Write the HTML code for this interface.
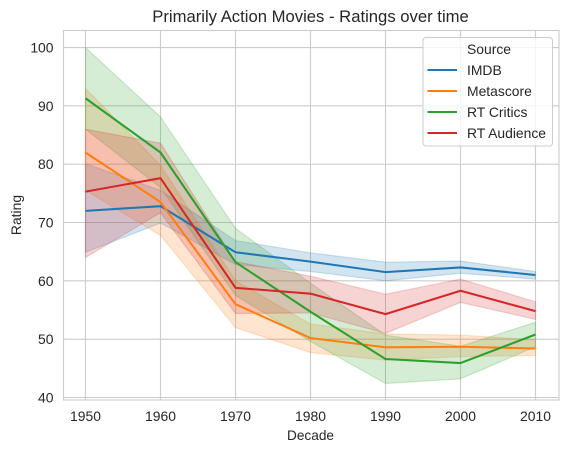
<!DOCTYPE html>
<html>
<head>
<meta charset="utf-8">
<title>Primarily Action Movies - Ratings over time</title>
<style>
html,body{margin:0;padding:0;background:#fff;width:568px;height:453px;overflow:hidden}
svg{display:block}
text{font-family:"Liberation Sans",Arial,sans-serif;fill:#262626}
</style>
</head>
<body>
<svg id="chart" width="568" height="453" viewBox="0 0 568 453" xmlns="http://www.w3.org/2000/svg">
<g id="grid"></g>
<g id="bands"></g>
<g id="lines"></g>
<rect x="63.5" y="30.5" width="495.5" height="369.5" fill="none" stroke="#cccccc" stroke-width="1.1"/>
<g id="ticks"></g>
<text x="310.5" y="22" text-anchor="middle" font-size="16.67">Primarily Action Movies - Ratings over time</text>
<text x="310.5" y="440" text-anchor="middle" font-size="13.9" textLength="47" lengthAdjust="spacingAndGlyphs">Decade</text>
<text x="21" y="215" text-anchor="middle" font-size="13.9" transform="rotate(-90 21 215)">Rating</text>
<g id="legend">
<rect x="423" y="37.5" width="129.5" height="108.5" rx="3" fill="#ffffff" fill-opacity="0.8" stroke="#cccccc" stroke-width="1"/>
<text x="467" y="54" font-size="13.9">Source</text>
</g>
</svg>
<script>
const decades = [1950, 1960, 1970, 1980, 1990, 2000, 2010];
const yTicks = [40, 50, 60, 70, 80, 90, 100];
const seriesNames = ["IMDB", "Metascore", "RT Critics", "RT Audience"];
const seriesColors = ["#1f77b4", "#ff7f0e", "#2ca02c", "#d62728"];
const imdbMean = [72.0, 72.8, 64.9, 63.3, 61.5, 62.3, 61.0];
const imdbLow = [64.9, 69.9, 62.8, 61.6, 60.0, 61.3, 60.3];
const imdbHigh = [80.1, 75.5, 66.9, 64.8, 63.2, 63.4, 61.6];
const metaMean = [82.0, 73.5, 56.0, 50.2, 48.6, 48.7, 48.4];
const metaLow = [75.5, 67.8, 52.0, 47.7, 46.4, 47.0, 47.2];
const metaHigh = [93.0, 79.8, 60.0, 52.6, 50.9, 50.7, 49.9];
const criticsMean = [91.3, 82.0, 63.2, 54.7, 46.6, 45.9, 50.8];
const criticsLow = [86.0, 76.0, 57.5, 49.6, 42.4, 43.2, 48.7];
const criticsHigh = [100.0, 88.1, 69.0, 59.6, 50.7, 48.8, 52.9];
const audienceMean = [75.3, 77.6, 58.8, 57.8, 54.3, 58.3, 54.8];
const audienceLow = [64.0, 71.7, 54.4, 54.5, 51.0, 56.3, 53.4];
const audienceHigh = [86.0, 83.6, 63.3, 60.8, 57.7, 60.3, 56.4];
const meanSeries = [imdbMean, metaMean, criticsMean, audienceMean];
const lowSeries = [imdbLow, metaLow, criticsLow, audienceLow];
const highSeries = [imdbHigh, metaHigh, criticsHigh, audienceHigh];

const NS = "http://www.w3.org/2000/svg";
function xScale(v) { return 85.5 + (v - 1950) * 7.5; }
function yScale(v) { return 397.5 - (v - 40) * 5.833; }
function make(tag, attrs, parent) {
  const el = document.createElementNS(NS, tag);
  for (const k in attrs) el.setAttribute(k, attrs[k]);
  parent.appendChild(el);
  return el;
}
function slug(s) { return s.toLowerCase().replace(/\s+/g, "-"); }

const gridG = document.getElementById("grid");
const bandsG = document.getElementById("bands");
const linesG = document.getElementById("lines");
const ticksG = document.getElementById("ticks");
const legendG = document.getElementById("legend");

decades.forEach(function (d) {
  const x = xScale(d);
  const g = make("line", { x1: x, x2: x, y1: 30.5, y2: 400, stroke: "#cccccc", "stroke-width": 1.1 }, gridG);
  
  
  const t = make("text", { x: x, y: 421, "text-anchor": "middle", "font-size": 13.9 }, ticksG);
  t.textContent = d;
  
  
});
yTicks.forEach(function (v) {
  const y = yScale(v);
  const g = make("line", { x1: 63.5, x2: 559, y1: y, y2: y, stroke: "#cccccc", "stroke-width": 1.1 }, gridG);
  
  
  const t = make("text", { x: 53.5, y: y + 5, "text-anchor": "end", "font-size": 13.9 }, ticksG);
  t.textContent = v;
  
  
});

seriesNames.forEach(function (name, i) {
  const color = seriesColors[i];
  const upper = decades.map(function (d, j) { return xScale(d) + "," + yScale(highSeries[i][j]); });
  const lower = decades.map(function (d, j) { return xScale(d) + "," + yScale(lowSeries[i][j]); }).reverse();
  const band = make("polygon", { points: upper.concat(lower).join(" "), fill: color, "fill-opacity": 0.2, stroke: color, "stroke-opacity": 0.2, "stroke-width": 1.2 }, bandsG);
  
  
  const pts = decades.map(function (d, j) { return xScale(d) + "," + yScale(meanSeries[i][j]); }).join(" ");
  const line = make("polyline", { points: pts, fill: "none", stroke: color, "stroke-width": 2.05, "stroke-linejoin": "round" }, linesG);
  
  

  const ly = 70 + i * 21;
  const swatch = make("line", { x1: 427.5, x2: 457, y1: ly, y2: ly, stroke: color, "stroke-width": 2.05 }, legendG);
  
  
  const label = make("text", { x: 467, y: ly + 5, "font-size": 13.9 }, legendG);
  label.textContent = name;
  
  
});
</script>
</body>
</html>
